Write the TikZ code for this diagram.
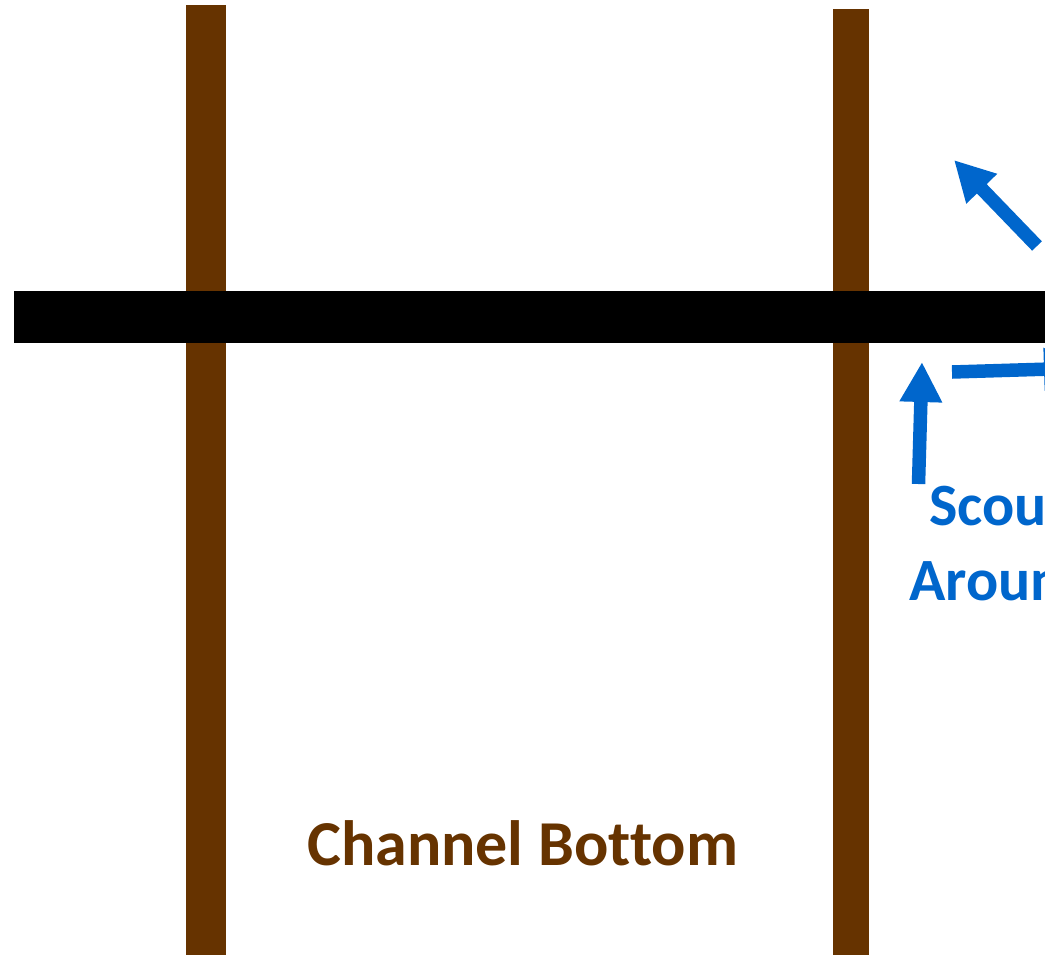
\documentclass[tikz,border=0pt]{standalone}
\usepackage{fontspec}
\setmainfont{Carlito}[Ligatures=NoCommon]
\usetikzlibrary{arrows.meta}
\definecolor{postbrown}{HTML}{663300}
\definecolor{flowblue}{HTML}{0066CC}
\tikzset{
  post/.style={fill=postbrown, draw=none},
  deck/.style={fill=black, draw=none},
  flow/.style={draw=flowblue, line width=13.5pt,
    -{Triangle[width=40pt,length=40pt]}},
  brownlabel/.style={text=postbrown, font=\fontsize{64}{77}\selectfont\bfseries, inner sep=0pt},
  bluelabel/.style={text=flowblue, font=\fontsize{60}{75}\selectfont\bfseries, inner sep=0pt}
}
\begin{document}
\begin{tikzpicture}[x=1pt,y=-1pt]
  \useasboundingbox (0,0) rectangle (1045,954);
  \clip (0,0) rectangle (1045,954);
  % piles
  \fill[post] (186,5) rectangle (226,960);
  \fill[post] (833,9) rectangle (869,960);
  % cap beam across the piles
  \fill[deck] (14,291) rectangle (1060,343);
  % flow arrows
  \coordinate (d0) at (1037,246);
  \coordinate (d1) at (954,160);
  \draw[flow] (d0) -- (d1);
  \coordinate (v0) at (918.5,484);
  \coordinate (v1) at (922,362);
  \draw[flow] (v0) -- (v1);
  \coordinate (h0) at (952,372);
  \coordinate (h1) at (1084,368);
  \draw[flow] (h0) -- (h1);
  % labels
  \node[brownlabel, anchor=base west] (cb) at (307,865) {Channel Bottom};
  \node[bluelabel, anchor=base west] (sc1) at (929,525) {Scour};
  \node[bluelabel, anchor=base west] (sc2) at (909,600) {Around};
\end{tikzpicture}
\end{document}
